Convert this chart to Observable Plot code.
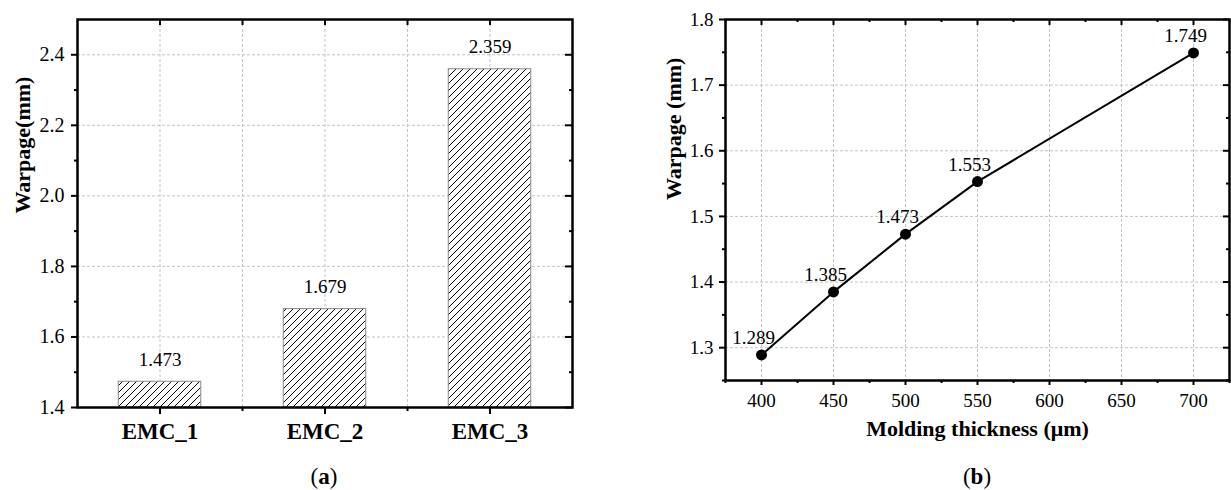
<!DOCTYPE html>
<html><head><meta charset="utf-8">
<script src="https://cdn.jsdelivr.net/npm/d3@7"></script>
<script src="https://cdn.jsdelivr.net/npm/@observablehq/plot@0.6"></script>
<style>
body{margin:0;background:#fff;}
#wrap{position:relative;width:1231px;height:490px;font-family:"Liberation Serif",serif;overflow:hidden;}
#a{position:absolute;left:0;top:0;}
#b{position:absolute;left:600px;top:0;}
.cap{position:absolute;top:463px;font-size:23px;line-height:28px;transform:translateX(-50%);color:#000;}
</style></head>
<body><div id="wrap"><div id="a"></div><div id="b"></div>
<div class="cap" style="left:324px">(<b>a</b>)</div>
<div class="cap" style="left:977px">(<b>b</b>)</div></div>
<script>
// ---- data ----
const emcCategories = ["EMC_1", "EMC_2", "EMC_3"];
const emcWarpage = [1.473, 1.679, 2.359];
const thickness = [400, 450, 500, 550, 700];
const thicknessWarpage = [1.289, 1.385, 1.473, 1.553, 1.749];
// tick labels
const aYTicks = [1.4, 1.6, 1.8, 2.0, 2.2, 2.4];
const aYMinor = [1.5, 1.7, 1.9, 2.1, 2.3];
const aXTicks = [1, 2, 3];
const aXMinor = [1.5, 2.5];
const bXTicks = [400, 450, 500, 550, 600, 650, 700];
const bXMinor = [375, 425, 475, 525, 575, 625, 675, 725];
const bYTicks = [1.3, 1.4, 1.5, 1.6, 1.7, 1.8];
const bYMinor = [1.25, 1.35, 1.45, 1.55, 1.65, 1.75];

const FONT = "Liberation Serif";
const gridStyle = {stroke: "#c4c4c4", strokeOpacity: 1, strokeDasharray: "3,2", strokeWidth: 1};

// ---- panel (a) ----
const barData = emcCategories.map((c, i) => ({cat: c, pos: aXTicks[i], value: emcWarpage[i]}));
const aW = 600, aH = 450, aMT = 19, aMR = 28, aMB = 43, aML = 77;
const aFW = aW - aML - aMR, aFH = aH - aMT - aMB;
const aYDomain = [1.4, 2.5];
const plotA = Plot.plot({
  width: aW, height: aH, marginTop: aMT, marginRight: aMR, marginBottom: aMB, marginLeft: aML,
  style: {fontFamily: FONT, fontSize: "20px", color: "#000", background: "white", overflow: "visible"},
  x: {type: "linear", domain: [0.5, 3.5], label: null},
  y: {domain: aYDomain, label: null},
  marks: [
    Plot.gridY({ticks: aYTicks.slice(1), ...gridStyle}),
    Plot.gridX({ticks: [...aXTicks, ...aXMinor], ...gridStyle}),
    Plot.rect(barData, {x1: d => d.pos - 0.25, x2: d => d.pos + 0.25, y1: aYDomain[0], y2: "value", fill: "white"}),
    Plot.rect(barData, {x1: d => d.pos - 0.25, x2: d => d.pos + 0.25, y1: aYDomain[0], y2: "value", fill: "url(#hatchA)", stroke: "#8a8a8a", strokeWidth: 1}),
    Plot.text(barData, {x: "pos", y: "value", text: d => d.value.toFixed(3), dy: -22, fontSize: 19}),
    Plot.axisY({ticks: aYTicks, tickSize: 6, tickPadding: 7, strokeWidth: 2, tickFormat: d => d.toFixed(1), fontSize: 20, label: null}),
    Plot.axisY({ticks: aYMinor, tickSize: 3, strokeWidth: 2, tickFormat: () => "", label: null}),
    Plot.axisX({ticks: aXTicks, tickSize: 7, tickPadding: 8, strokeWidth: 2, tickFormat: d => emcCategories[d - 1], fontSize: 23, fontWeight: "bold", label: null}),
    Plot.axisX({ticks: aXMinor, tickSize: 4, strokeWidth: 2, tickFormat: () => "", label: null}),
    Plot.tickX([...aXTicks, ...aXMinor], {x: d => d, insetBottom: aFH - 6, strokeWidth: 2}),
    Plot.tickY(aYTicks, {y: d => d, insetLeft: aFW - 7, strokeWidth: 2}),
    Plot.tickY(aYMinor, {y: d => d, insetLeft: aFW - 3, strokeWidth: 2}),
    Plot.text(["Warpage(mm)"], {frameAnchor: "left", dx: -55, rotate: -90, fontWeight: "bold", fontSize: 22}),
    Plot.frame({stroke: "black", strokeWidth: 2.5})
  ]
});

// ---- panel (b) ----
const lineData = thickness.map((t, i) => ({t, w: thicknessWarpage[i]}));
const bW = 631, bH = 460, bMT = 19, bMR = 2, bMB = 80, bML = 125;
const bFW = bW - bML - bMR, bFH = bH - bMT - bMB;
const plotB = Plot.plot({
  width: bW, height: bH, marginTop: bMT, marginRight: bMR, marginBottom: bMB, marginLeft: bML,
  style: {fontFamily: FONT, fontSize: "19px", color: "#000", background: "transparent", overflow: "visible"},
  x: {domain: [375, 725], label: null},
  y: {domain: [1.25, 1.8], label: null},
  marks: [
    Plot.gridY({ticks: bYTicks.slice(0, -1), ...gridStyle}),
    Plot.gridX({ticks: bXTicks, ...gridStyle}),
    Plot.line(lineData, {x: "t", y: "w", stroke: "black", strokeWidth: 2}),
    Plot.dot(lineData, {x: "t", y: "w", r: 5.5, fill: "black", stroke: "none"}),
    Plot.text(lineData, {x: "t", y: "w", text: d => d.w.toFixed(3), dx: -8, dy: -17, fontSize: 19}),
    Plot.axisY({ticks: bYTicks, tickSize: 6, tickPadding: 6, strokeWidth: 2, tickFormat: d => d.toFixed(1), fontSize: 19, label: null}),
    Plot.axisY({ticks: bYMinor, tickSize: 3, strokeWidth: 2, tickFormat: () => "", label: null}),
    Plot.axisX({ticks: bXTicks, tickSize: 5, tickPadding: 8, strokeWidth: 2, tickFormat: d => String(d), fontSize: 19, label: null}),
    Plot.axisX({ticks: bXMinor, tickSize: 3, strokeWidth: 2, tickFormat: () => "", label: null}),
    Plot.tickX(bXTicks, {x: d => d, insetBottom: bFH - 6, strokeWidth: 2}),
    Plot.tickX(bXMinor, {x: d => d, insetBottom: bFH - 3, strokeWidth: 2}),
    Plot.tickY(bYTicks, {y: d => d, insetLeft: bFW - 6, strokeWidth: 2}),
    Plot.tickY(bYMinor, {y: d => d, insetLeft: bFW - 3, strokeWidth: 2}),
    Plot.text(["Warpage (mm)"], {frameAnchor: "left", dx: -52, rotate: -90, fontWeight: "bold", fontSize: 22}),
    Plot.text(["Molding thickness (μm)"], {frameAnchor: "bottom", dy: 55, fontWeight: "bold", fontSize: 22}),
    Plot.frame({stroke: "black", strokeWidth: 2.5})
  ]
});

// hatch pattern for bars
const ns = "http://www.w3.org/2000/svg";
const defs = document.createElementNS(ns, "defs");
defs.innerHTML = '<pattern id="hatchA" patternUnits="userSpaceOnUse" width="7" height="7">' +
  '<rect width="7" height="7" fill="white"/>' +
  '<path d="M-1,1 l2,-2 M0,7 l7,-7 M6,8 l2,-2" stroke="black" stroke-width="1"/></pattern>';
plotA.insertBefore(defs, plotA.firstChild);

document.getElementById("a").appendChild(plotA);
document.getElementById("b").appendChild(plotB);
</script>
</body></html>
